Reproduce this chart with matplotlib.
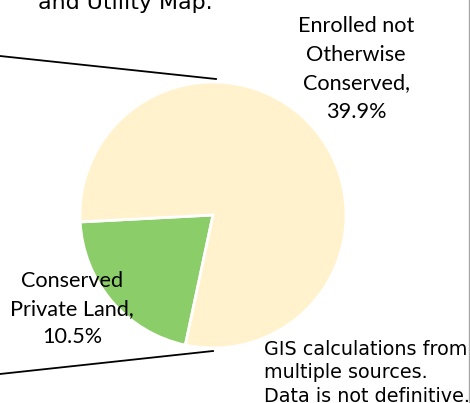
import matplotlib.pyplot as plt
from matplotlib.lines import Line2D

# data
labels = ['Conserved\nPrivate Land,', 'Enrolled not\nOtherwise\nConserved,']
values = [10.5, 39.9]
colors = ['#8BCD68', '#FFF2CC']

W, H = 470, 403
fig = plt.figure(figsize=(W / 100, H / 100), dpi=100)
ax = fig.add_axes([0, 0, 1, 1])

# pie (pixel coords, y measured from bottom)
cx, cy, r = 213, H - 215, 133
ax.pie(values, colors=colors, startangle=183, counterclock=True,
       center=(cx, cy), radius=r, frame=True,
       wedgeprops=dict(edgecolor='white', linewidth=2))
ax.set_xlim(0, W)
ax.set_ylim(0, H)
ax.set_aspect('equal')
ax.axis('off')

# connector lines from the first pie
ax.plot([0, cx + 3], [H - 56, cy + r + 3], color='black', lw=1.3)
ax.plot([0, cx], [H - 374, cy - r - 3], color='black', lw=1.3)

lab_font = ['Lato', 'DejaVu Sans']
ax.text(356, H - 69, labels[1] + '\n' + f'{values[1]}%', ha='center', va='center',
        fontsize=15.6, family=lab_font, linespacing=1.53)
ax.text(72, H - 309, labels[0] + '\n' + f'{values[0]}%', ha='center', va='center',
        fontsize=15.6, family=lab_font, linespacing=1.53)

ax.text(264, H - 373, 'GIS calculations from\nmultiple sources.\nData is not definitive.',
        ha='left', va='center', fontsize=13.8, family='DejaVu Sans', linespacing=1.33)

# clipped title from above
ax.text(38, H - 9, 'and Utility Map.', ha='left', va='baseline', fontsize=15.9,
        family='DejaVu Sans')

# right border
fig.add_artist(Line2D([468.5 / W, 468.5 / W], [0, 1], color='#A6A6A6', lw=1))

fig.savefig('out.png', dpi=100)
